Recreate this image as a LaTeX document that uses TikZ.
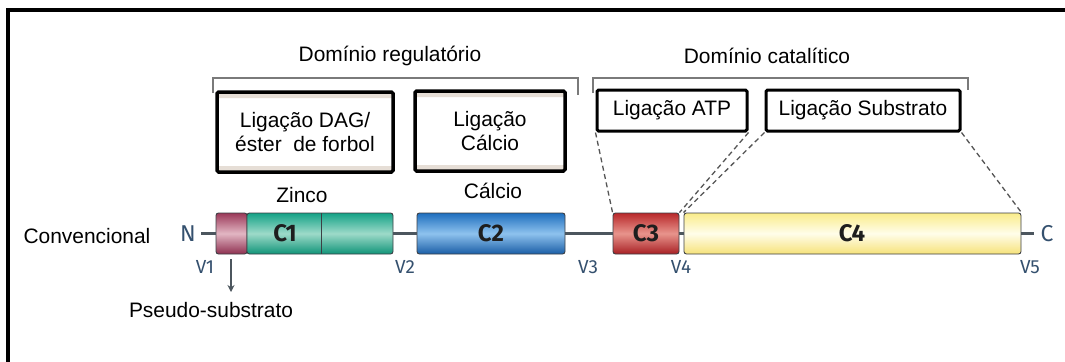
\documentclass[tikz,border=0pt]{standalone}
\usepackage{fontspec}
\setmainfont{Liberation Sans}
\newfontfamily\labfont{Fira Sans}
\usetikzlibrary{arrows.meta}
\definecolor{barborder}{HTML}{3C3F44}
\definecolor{barline}{HTML}{4C565E}
\definecolor{vblue}{HTML}{34506E}
\definecolor{labdark}{HTML}{1E1E1E}
\definecolor{bandc}{HTML}{E6DED6}
\definecolor{brk}{HTML}{7A7A7A}
\definecolor{dashc}{HTML}{555555}
\definecolor{psT}{HTML}{9A3858}\definecolor{psB}{HTML}{8E3050}\definecolor{psM}{HTML}{E2B6C3}
\definecolor{c1T}{HTML}{14A286}\definecolor{c1B}{HTML}{109478}\definecolor{c1M}{HTML}{9DDAC9}
\definecolor{c2T}{HTML}{1E6EBE}\definecolor{c2B}{HTML}{1A5EA6}\definecolor{c2M}{HTML}{8EC2EE}
\definecolor{c3T}{HTML}{B8282A}\definecolor{c3B}{HTML}{A82024}\definecolor{c3M}{HTML}{E8948C}
\definecolor{c4T}{HTML}{FAEC8A}\definecolor{c4B}{HTML}{F6E27A}\definecolor{c4M}{HTML}{FFFDEA}
\begin{document}
\begin{tikzpicture}[x=1bp,y=-1bp,
  txt/.style={font=\fontsize{21}{24}\selectfont, inner sep=0},
  infobox/.style={draw=black, line width=3.5bp, fill=white, rounded corners=1.5bp, inner sep=0, align=center, font=\fontsize{21}{24.5}\selectfont},
  bandbox/.style={infobox, path picture={
      \fill[bandc] (path picture bounding box.north west) rectangle ([yshift=-6bp]path picture bounding box.north east);
      \fill[bandc] (path picture bounding box.south west) rectangle ([yshift=6bp]path picture bounding box.south east);}},
  dom/.style={draw=barborder, line width=0.9bp, rounded corners=2.5bp, inner sep=0, minimum height=41bp},
  domlab/.style={font=\labfont\bfseries\fontsize{24}{24}\selectfont, text=labdark, inner sep=0},
  vlab/.style={font=\labfont\fontsize{19}{19}\selectfont, text=vblue, inner sep=0},
  endlab/.style={font=\labfont\fontsize{23}{23}\selectfont, text=vblue, inner sep=0},
  bracket/.style={draw=brk, line width=1.4bp},
  dashln/.style={draw=dashc, line width=1.3bp, dash pattern=on 5bp off 3.5bp},
  bar/.style={draw=barline, line width=2.2bp}
]
\useasboundingbox (0,0) rectangle (1065,361);
% frame
\coordinate (fbl) at (8,362);
\coordinate (ftl) at (8,10);
\coordinate (ftr) at (1066,10);
\draw[line width=3.5bp] (fbl) -- (ftl) -- (ftr);

% titles and brackets
\node[txt] (tReg) at (390,56) {Domínio regulatório};
\node[txt] (tCat) at (767,56) {Domínio catalítico};
\coordinate (rb1) at (213,93);
\coordinate (rb2) at (213,78);
\coordinate (rb3) at (578,78);
\coordinate (rb4) at (578,95);
\draw[bracket] (rb1) -- (rb2) -- (rb3) -- (rb4);
\coordinate (cb1) at (593,93);
\coordinate (cb2) at (593,78);
\coordinate (cb3) at (968,78);
\coordinate (cb4) at (968,90);
\draw[bracket] (cb1) -- (cb2) -- (cb3) -- (cb4);

% info boxes
\node[bandbox, minimum width=176bp, minimum height=80bp] (dag) at (305,132) {Ligação DAG/\\éster\ \ de forbol};
\node[bandbox, minimum width=150bp, minimum height=80bp] (cal) at (490,131) {Ligação\\Cálcio};
\node[infobox, line width=3bp, minimum width=150bp, minimum height=41bp] (atp) at (672,110.5) {Ligação ATP};
\node[infobox, line width=3bp, minimum width=194bp, minimum height=41bp] (sub) at (863,110.5) {Ligação Substrato};

% domain labels
\node[txt] (zinco) at (302,195) {Zinco};
\node[txt] (calcio) at (493,191) {Cálcio};
\node[txt] (conv) at (87,236) {Convencional};

% domain bar
\node[endlab] (N) at (188,234) {N};
\node[endlab] (C) at (1047,234) {C};
\node[dom, minimum width=31bp, top color=psT, bottom color=psB, middle color=psM] (ps) at (231.5,233.5) {};
\node[dom, minimum width=146bp, top color=c1T, bottom color=c1B, middle color=c1M] (c1) at (320,233.5) {};
\node[dom, minimum width=148bp, top color=c2T, bottom color=c2B, middle color=c2M] (c2) at (491,233.5) {};
\node[dom, minimum width=66bp, top color=c3T, bottom color=c3B, middle color=c3M] (c3) at (646,233.5) {};
\node[dom, minimum width=337bp, top color=c4T, bottom color=c4B, middle color=c4M] (c4) at (852.5,233.5) {};
\coordinate (d1) at (321,213);
\coordinate (d2) at (321,254);
\draw[barborder, line width=0.9bp] (d1) -- (d2);
\node[domlab] (l1) at (285,233) {C1};
\node[domlab] (l2) at (491,233) {C2};
\node[domlab] (l3) at (646,233) {C3};
\node[domlab] (l4) at (852,233) {C4};

\coordinate (nl) at (201,233.5);
\coordinate (cr) at (1034,233.5);
\draw[bar] (nl) -- (ps.west);
\draw[bar] (c1.east) -- (c2.west);
\draw[bar] (c2.east) -- (c3.west);
\draw[bar] (c3.east) -- (c4.west);
\draw[bar] (c4.east) -- (cr);

\node[vlab] (v1) at (205,267) {V1};
\node[vlab] (v2) at (405,267) {V2};
\node[vlab] (v3) at (588,267) {V3};
\node[vlab] (v4) at (681,267) {V4};
\node[vlab] (v5) at (1030,267) {V5};

% pseudo-substrate arrow
\node[txt] (pseudo) at (211,310) {Pseudo-substrato};
\coordinate (pa) at (231,259);
\coordinate (pb) at (231,292);
\draw[barline, line width=1.6bp, -{Stealth[length=7bp,width=7bp]}] (pa) -- (pb);

% dashed projections
\draw[dashln] (atp.south west) -- (c3.north west);
\draw[dashln] (atp.south east) -- (c3.north east);
\draw[dashln] (sub.south west) -- (c4.north west);
\draw[dashln] (sub.south east) -- (c4.north east);
\end{tikzpicture}
\end{document}
